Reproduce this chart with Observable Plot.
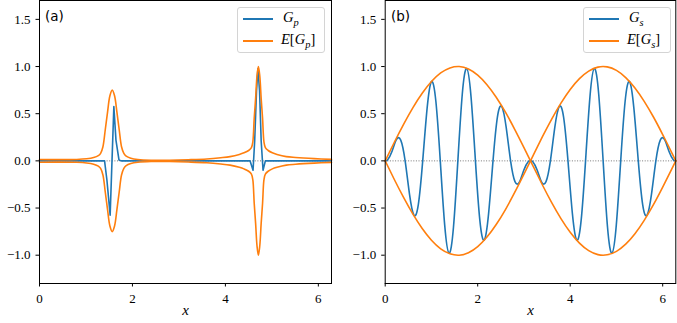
<!DOCTYPE html>
<html><head><meta charset="utf-8">
<script src="https://cdn.jsdelivr.net/npm/d3@7"></script>
<script src="https://cdn.jsdelivr.net/npm/@observablehq/plot@0.6"></script>
<style>
body{margin:0;background:#fff}
#wrap{position:relative;width:677px;height:323px;overflow:hidden;background:#fff}
.panel{position:absolute;top:0}
.panel text{font-family:"Liberation Serif",serif}
.legend{position:absolute;box-sizing:border-box;border:1px solid #d4d4d4;border-radius:3px;background:rgba(255,255,255,0.85)}
.legend .sw{position:absolute;height:1.6px;width:30px}
.legend .lb{position:absolute;font-family:"Liberation Serif",serif;font-size:14.5px;line-height:14px;white-space:nowrap}
.legend sub{font-size:0.72em;vertical-align:-0.35em;line-height:0}
.tag{position:absolute;font-family:"DejaVu Sans",sans-serif;font-size:13.5px;line-height:14px}
</style></head>
<body><div id="wrap"></div>
<script>
// ---- data ----
const xTicks = [0, 2, 4, 6];
const yTicks = [-1, -0.5, 0, 0.5, 1, 1.5];

// panel (a)
const gpX = [0, 1.40, 1.45, 1.52, 1.60, 1.645, 1.71, 1.76, 4.53, 4.595, 4.63, 4.67, 4.70, 4.735, 4.77, 4.81, 4.86, 6.283];
const gpY = [0, 0, -0.20, -0.575, 0.575, 0.22, 0.01, 0, 0, -0.10, 0.21, 0.745, 0.975, 0.745, 0.21, -0.10, 0, 0];

const egpX = [0, 0.4, 0.8, 1.015, 1.165, 1.265, 1.315, 1.365, 1.415, 1.465, 1.515, 1.565, 1.615, 1.665, 1.715, 1.765, 1.815, 1.865, 1.965, 2.115, 2.4, 2.8, 3.2, 3.6, 3.9, 4.1, 4.3, 4.4, 4.5, 4.56, 4.59, 4.62, 4.65, 4.68, 4.71, 4.74, 4.77, 4.80, 4.83, 4.86, 4.92, 5.01, 5.11, 5.31, 5.51, 5.91, 6.283];
const egpUpper = [0.015, 0.013, 0.015, 0.022, 0.035, 0.055, 0.08, 0.15, 0.33, 0.52, 0.69, 0.75, 0.69, 0.52, 0.33, 0.15, 0.08, 0.05, 0.028, 0.014, 0.006, 0.007, 0.012, 0.02, 0.033, 0.045, 0.068, 0.085, 0.11, 0.14, 0.20, 0.45, 0.66, 0.90, 1.0, 0.90, 0.66, 0.45, 0.20, 0.14, 0.11, 0.085, 0.068, 0.045, 0.036, 0.024, 0.016];
const egpLower = [-0.015, -0.013, -0.015, -0.022, -0.035, -0.055, -0.08, -0.15, -0.33, -0.52, -0.69, -0.75, -0.69, -0.52, -0.33, -0.15, -0.08, -0.05, -0.028, -0.014, -0.006, -0.007, -0.012, -0.02, -0.033, -0.045, -0.068, -0.085, -0.11, -0.14, -0.20, -0.45, -0.66, -0.90, -1.0, -0.90, -0.66, -0.45, -0.20, -0.14, -0.11, -0.085, -0.068, -0.045, -0.036, -0.024, -0.016];

// panel (b)
const gsX = [0, 0.051, 0.146, 0.241, 0.336, 0.431, 0.526, 0.621, 0.716, 0.811, 0.906, 1.001, 1.096, 1.191, 1.286, 1.381, 1.476, 1.571, 1.666, 1.761, 1.856, 1.951, 2.046, 2.141, 2.236, 2.331, 2.426, 2.521, 2.616, 2.711, 2.806, 2.901, 2.996, 3.091, 3.142, 3.192, 3.287, 3.382, 3.477, 3.572, 3.667, 3.762, 3.857, 3.952, 4.047, 4.142, 4.237, 4.332, 4.427, 4.522, 4.617, 4.712, 4.807, 4.902, 4.997, 5.092, 5.187, 5.282, 5.377, 5.472, 5.567, 5.662, 5.757, 5.852, 5.947, 6.042, 6.137, 6.232, 6.283];
const gsY = [0, 0.01, 0.10, 0.225, 0.22, 0, -0.355, -0.575, -0.464, 0, 0.556, 0.84, 0.629, 0, -0.679, -0.978, -0.704, 0, 0.704, 0.978, 0.679, 0, -0.629, -0.84, -0.556, 0, 0.464, 0.575, 0.355, 0, -0.22, -0.225, -0.10, -0.01, 0, -0.01, -0.10, -0.225, -0.22, 0, 0.355, 0.575, 0.464, 0, -0.556, -0.84, -0.629, 0, 0.679, 0.978, 0.704, 0, -0.704, -0.978, -0.679, 0, 0.629, 0.84, 0.556, 0, -0.464, -0.575, -0.355, 0, 0.22, 0.225, 0.10, 0.01, 0];

const egsX = [0, 0.2, 0.4, 0.6, 0.8, 1.0, 1.2, 1.4, 1.6, 1.8, 2.0, 2.2, 2.4, 2.6, 2.8, 3.0, 3.2, 3.4, 3.6, 3.8, 4.0, 4.2, 4.4, 4.6, 4.8, 5.0, 5.2, 5.4, 5.6, 5.8, 6.0, 6.2, 6.283];
const egsUpper = [0, 0.20, 0.39, 0.565, 0.717, 0.841, 0.932, 0.985, 1.0, 0.974, 0.909, 0.808, 0.675, 0.516, 0.335, 0.141, -0.058, -0.256, -0.443, -0.612, -0.757, -0.872, -0.952, -0.994, -0.996, -0.959, -0.883, -0.773, -0.631, -0.465, -0.279, -0.083, 0];
const egsLower = [0, -0.20, -0.39, -0.565, -0.717, -0.841, -0.932, -0.985, -1.0, -0.974, -0.909, -0.808, -0.675, -0.516, -0.335, -0.141, 0.058, 0.256, 0.443, 0.612, 0.757, 0.872, 0.952, 0.994, 0.996, 0.959, 0.883, 0.773, 0.631, 0.465, 0.279, 0.083, 0];

const BLUE = "#1f77b4", ORANGE = "#ff7f0e";
const rows = (xs, ys) => xs.map((x, i) => ({x, y: ys[i]}));
const fmtY = d => (d < 0 ? "\u2212" : "") + Math.abs(d).toFixed(1);

function panel(lines, width, marginLeft, marginRight) {
  return Plot.plot({
    width, height: 323, marginLeft, marginRight, marginTop: 0, marginBottom: 40,
    x: {domain: [0, 2 * Math.PI]},
    y: {domain: [-1.3, 1.7]},
    style: {fontFamily: "'Liberation Serif', serif", fontSize: "13px", color: "black", background: "transparent"},
    marks: [
      Plot.ruleY([0], {stroke: "#555", strokeWidth: 0.8, strokeDasharray: "1,1.6"}),
      ...lines,
      Plot.frame({stroke: "black", strokeWidth: 1}),
      Plot.axisX(xTicks, {tickSize: 3.5, tickPadding: 7, tickFormat: d => String(d), label: null, fontSize: 13}),
      Plot.axisY(yTicks, {tickSize: 3.5, tickPadding: 5.5, tickFormat: fmtY, label: null, fontSize: 13}),
      Plot.text(["x"], {text: d => d, frameAnchor: "bottom", dy: 31, fontStyle: "italic", fontSize: 15})
    ]
  });
}

const wrap = document.getElementById("wrap");

const lineOpts = (c) => ({x: "x", y: "y", stroke: c, strokeWidth: 1.6});

const left = panel([
  Plot.line(rows(gpX, gpY), lineOpts(BLUE)),
  Plot.line(rows(egpX, egpUpper), {...lineOpts(ORANGE), curve: "catmull-rom"}),
  Plot.line(rows(egpX, egpLower), {...lineOpts(ORANGE), curve: "catmull-rom"})
], 340, 39, 9);
left.classList.add("panel"); left.style.left = "0px";
wrap.appendChild(left);

const right = panel([
  Plot.line(rows(gsX, gsY), {...lineOpts(BLUE), curve: "natural"}),
  Plot.line(rows(egsX, egsUpper), {...lineOpts(ORANGE), curve: "natural"}),
  Plot.line(rows(egsX, egsLower), {...lineOpts(ORANGE), curve: "natural"})
], 337, 44.7, 1.7);
right.classList.add("panel"); right.style.left = "340px";
wrap.appendChild(right);

function legend(left, sub) {
  const d = document.createElement("div");
  d.className = "legend";
  d.style.left = left + "px"; d.style.top = "7px";
  d.style.width = "88px"; d.style.height = "46px";
  d.innerHTML =
    `<div class="sw" style="left:5px;top:10px;background:${BLUE}"></div>` +
    `<div class="lb" style="left:45px;top:2px"><i>G</i><sub><i>${sub}</i></sub></div>` +
    `<div class="sw" style="left:5px;top:32px;background:${ORANGE}"></div>` +
    `<div class="lb" style="left:43px;top:24px"><i>E</i>[<i>G</i><sub><i>${sub}</i></sub>]</div>`;
  wrap.appendChild(d);
}
legend(237, "p");
legend(583, "s");

function tag(x, t) {
  const d = document.createElement("div");
  d.className = "tag"; d.style.left = x + "px"; d.style.top = "9px";
  d.textContent = t; wrap.appendChild(d);
}
tag(45, "(a)");
tag(391, "(b)");
</script>
</body></html>
